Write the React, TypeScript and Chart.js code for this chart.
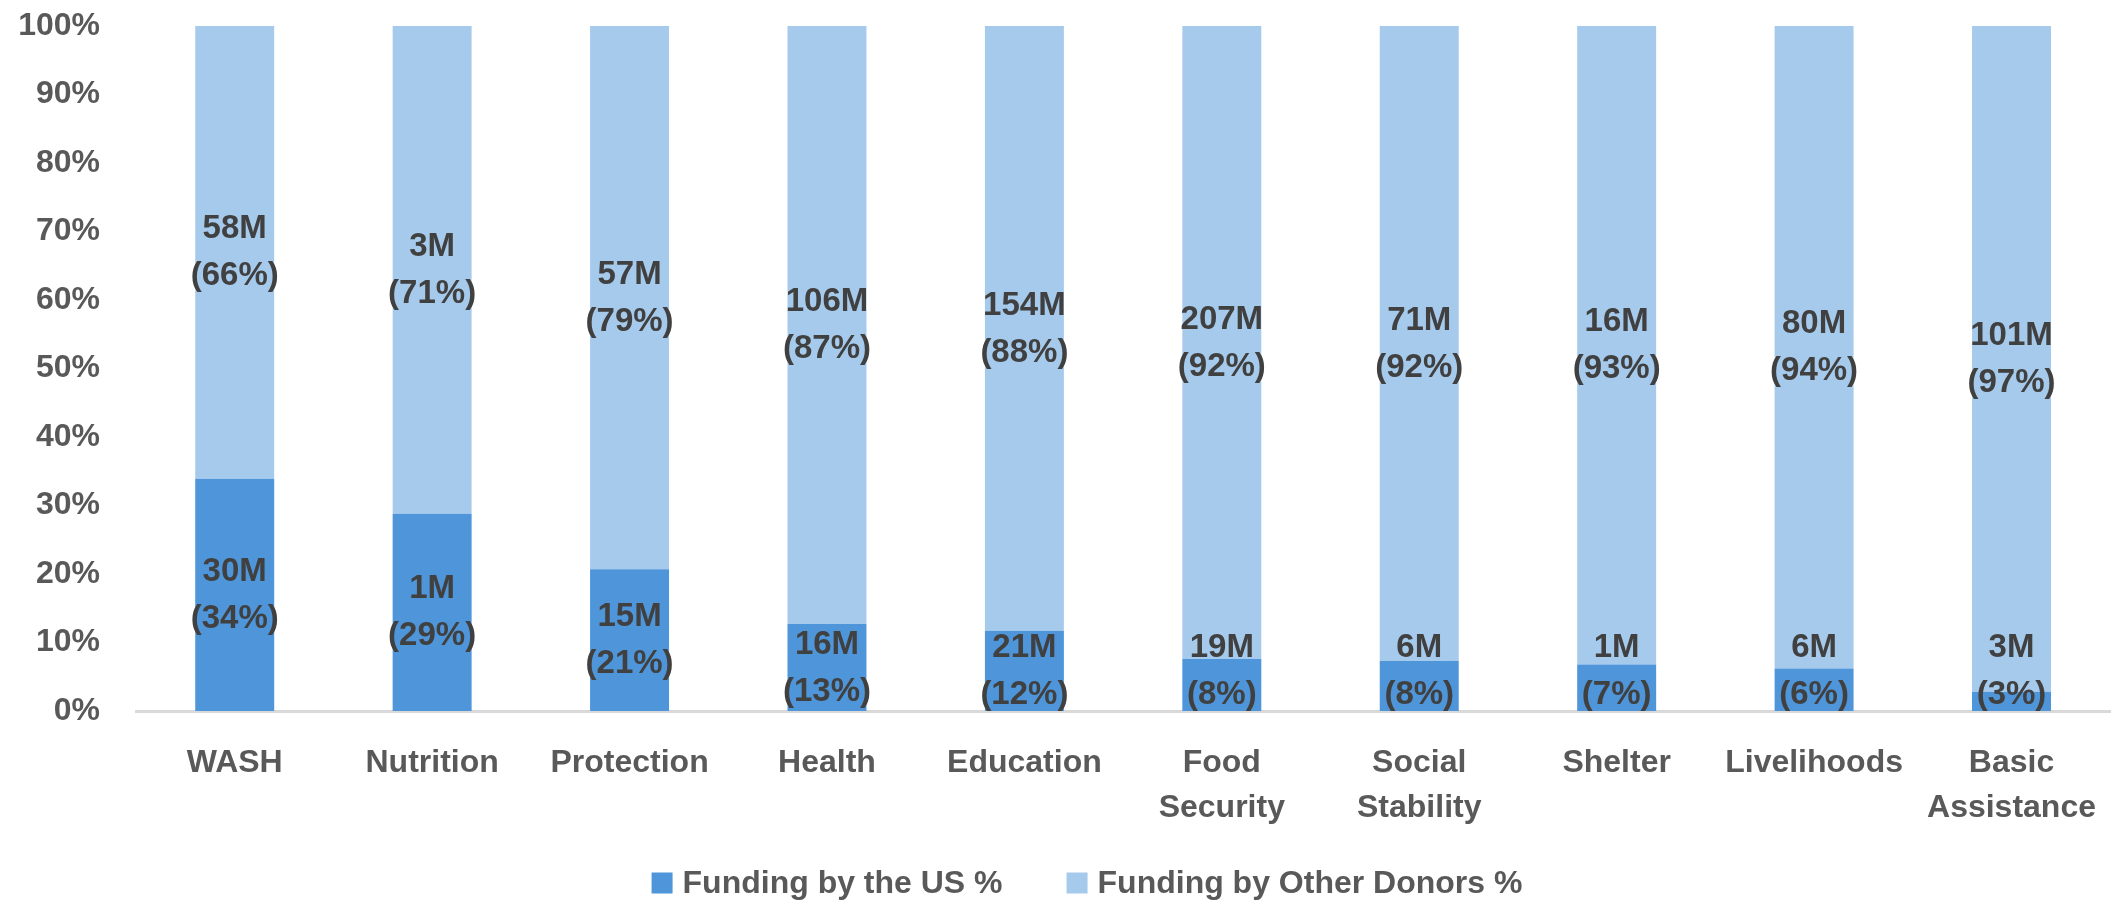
import React, { useEffect, useRef } from "react";
import { Chart, registerables } from "chart.js";

Chart.register(...registerables);

const categories: (string | string[])[] = [
  "WASH",
  "Nutrition",
  "Protection",
  "Health",
  "Education",
  ["Food", "Security"],
  ["Social", "Stability"],
  "Shelter",
  "Livelihoods",
  ["Basic", "Assistance"],
];

// bar heights (share of funding, %)
const usShare = [33.9, 28.8, 20.7, 12.7, 11.7, 7.6, 7.3, 6.8, 6.2, 2.8];
const otherShare = [66.1, 71.2, 79.3, 87.3, 88.3, 92.4, 92.7, 93.2, 93.8, 97.2];

// data label texts
const usAmount = ["30M", "1M", "15M", "16M", "21M", "19M", "6M", "1M", "6M", "3M"];
const usPctLabel = [34, 29, 21, 13, 12, 8, 8, 7, 6, 3];
const otherAmount = ["58M", "3M", "57M", "106M", "154M", "207M", "71M", "16M", "80M", "101M"];
const otherPctLabel = [66, 71, 79, 87, 88, 92, 92, 93, 94, 97];

const yTicks = [0, 10, 20, 30, 40, 50, 60, 70, 80, 90, 100];

const seriesNames = ["Funding by the US %", "Funding by Other Donors %"];
const seriesColors = ["#4E95D9", "#A6CAEC"];

const FONT = "'Liberation Sans', Arial, sans-serif";
const TICK_COLOR = "#595959";
const LABEL_COLOR = "#404040";

const dataLabelPlugin = {
  id: "dataLabels",
  afterDatasetsDraw(chart: any) {
    const ctx = chart.ctx;
    const bottom = chart.chartArea.bottom;
    ctx.save();
    ctx.font = `bold 33px ${FONT}`;
    ctx.fillStyle = LABEL_COLOR;
    ctx.textAlign = "center";
    ctx.textBaseline = "middle";
    chart.data.datasets.forEach((ds: any, di: number) => {
      const meta = chart.getDatasetMeta(di);
      const amounts = di === 0 ? usAmount : otherAmount;
      const pcts = di === 0 ? usPctLabel : otherPctLabel;
      meta.data.forEach((bar: any, i: number) => {
        let mid = (bar.y + bar.base) / 2;
        if (mid > bottom - 40) mid = bottom - 40;
        ctx.fillText(amounts[i], bar.x, mid - 23);
        ctx.fillText(`(${pcts[i]}%)`, bar.x, mid + 24);
      });
    });
    ctx.restore();
  },
};

const legendPlugin = {
  id: "customLegend",
  afterDraw(chart: any) {
    const ctx = chart.ctx;
    ctx.save();
    ctx.font = `bold 32px ${FONT}`;
    ctx.textBaseline = "middle";
    ctx.textAlign = "left";
    const box = 21;
    const gapBoxText = 10;
    const gapItems = 64;
    const widths = seriesNames.map((n) => ctx.measureText(n).width);
    const total =
      widths.reduce((a, w) => a + box + gapBoxText + w, 0) + gapItems * (seriesNames.length - 1);
    const cx = 1087;
    const cy = 883;
    let x = cx - total / 2;
    seriesNames.forEach((n, i) => {
      ctx.fillStyle = seriesColors[i];
      ctx.fillRect(x, cy - box / 2, box, box);
      x += box + gapBoxText;
      ctx.fillStyle = TICK_COLOR;
      ctx.fillText(n, x, cy + 1);
      x += widths[i] + gapItems;
    });
    ctx.restore();
  },
};

export default function App() {
  const ref = useRef<HTMLCanvasElement | null>(null);

  useEffect(() => {
    if (!ref.current) return;
    const chart = new Chart(ref.current, {
      type: "bar",
      data: {
        labels: categories,
        datasets: [
          {
            label: seriesNames[0],
            data: usShare,
            backgroundColor: seriesColors[0],
            categoryPercentage: 1,
            barPercentage: 0.4,
          },
          {
            label: seriesNames[1],
            data: otherShare,
            backgroundColor: seriesColors[1],
            categoryPercentage: 1,
            barPercentage: 0.4,
          },
        ],
      },
      options: {
        responsive: false,
        animation: false,
        layout: { padding: { top: 0, right: 0, bottom: 0, left: 0 } },
        plugins: {
          legend: { display: false },
          tooltip: { enabled: false },
        },
        scales: {
          x: {
            stacked: true,
            grid: { display: false, drawTicks: false },
            border: { display: true, color: "#D9D9D9", width: 3 },
            ticks: {
              color: TICK_COLOR,
              font: { family: FONT, size: 32, weight: "bold", lineHeight: 1.4 },
              padding: 30,
              maxRotation: 0,
              autoSkip: false,
            },
            afterFit(scale: any) {
              scale.height = 189;
            },
          },
          y: {
            stacked: true,
            min: 0,
            max: 100,
            afterBuildTicks(scale: any) {
              scale.ticks = yTicks.map((v) => ({ value: v }));
            },
            grid: { display: false, drawTicks: false },
            border: { display: false },
            ticks: {
              color: TICK_COLOR,
              font: { family: FONT, size: 32, weight: "bold" },
              padding: 36,
              callback: (v: any) => `${v}%`,
            },
            afterFit(scale: any) {
              scale.width = 136;
              scale.paddingTop = 26;
              scale.paddingBottom = 0;
            },
          },
        },
      },
      plugins: [dataLabelPlugin, legendPlugin],
    });
    return () => chart.destroy();
  }, []);

  return (
    <div style={{ position: "absolute", left: 0, top: 0, width: 2126, height: 900, background: "#fff" }}>
      <canvas ref={ref} width={2126} height={900} style={{ display: "block" }} />
    </div>
  );
}
